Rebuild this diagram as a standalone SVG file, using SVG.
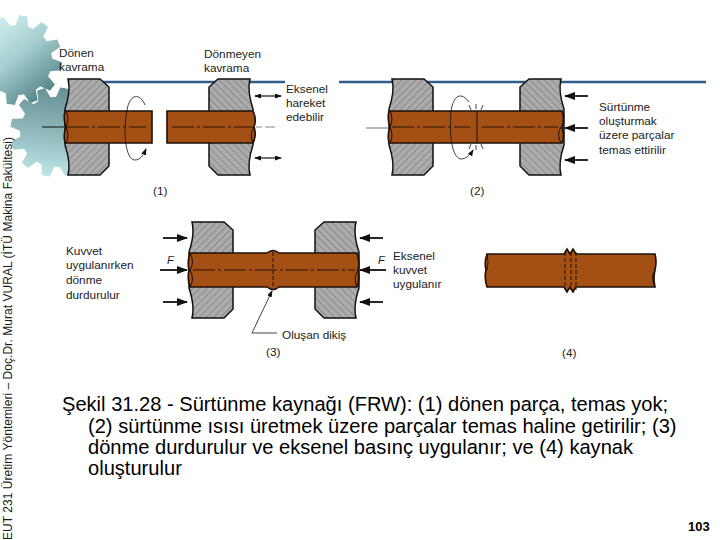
<svg xmlns="http://www.w3.org/2000/svg" xmlns:xlink="http://www.w3.org/1999/xlink" width="720" height="540" viewBox="0 0 720 540">
<style>
text{font-family:"Liberation Sans",Arial,sans-serif;fill:#1a1a1a}
.l{font-size:11.8px;fill:#222}
.c{font-size:20.1px;fill:#000}
.grip{fill:url(#hatch);stroke:#111;stroke-width:1.5}
.bar{fill:#a44f14;stroke:#1c1008;stroke-width:1.6}
.in{fill:none;stroke:#1c1008;stroke-width:1}
.cl{fill:none;stroke:#2a1408;stroke-width:1;stroke-dasharray:22 3 3 3}
.a{fill:none;stroke:#111;stroke-width:1.8}
.ah{marker-end:url(#big)}
.as{marker-end:url(#small);marker-start:url(#smallr);stroke-width:1.2}
.t{fill:none;stroke:#111;stroke-width:.8}
</style>
<defs>
<pattern id="hatch" patternUnits="userSpaceOnUse" width="5" height="5" patternTransform="rotate(-45)">
<rect width="5" height="5" fill="#acacac"/><line x1="0" y1="2.5" x2="5" y2="2.5" stroke="#7a7a7a" stroke-width=".7"/>
</pattern>
<marker id="big" markerWidth="11" markerHeight="9" refX="10" refY="4" orient="auto" markerUnits="userSpaceOnUse"><path d="M0 0L11 4L0 8Z" fill="#111"/></marker>
<marker id="small" markerWidth="7" markerHeight="6" refX="6" refY="2.5" orient="auto" markerUnits="userSpaceOnUse"><path d="M0 0L7 2.5L0 5Z" fill="#111"/></marker>
<marker id="smallr" markerWidth="7" markerHeight="6" refX="1" refY="2.5" orient="auto" markerUnits="userSpaceOnUse"><path d="M7 0L0 2.5L7 5Z" fill="#111"/></marker>
<polygon id="tooth" points="-6.5,-34 -4,-45 4,-45 6.5,-34"/>
<clipPath id="gearShape">
<circle r="35"/>
<use xlink:href="#tooth"/><use xlink:href="#tooth" transform="rotate(30)"/><use xlink:href="#tooth" transform="rotate(60)"/><use xlink:href="#tooth" transform="rotate(90)"/><use xlink:href="#tooth" transform="rotate(120)"/><use xlink:href="#tooth" transform="rotate(150)"/><use xlink:href="#tooth" transform="rotate(180)"/><use xlink:href="#tooth" transform="rotate(210)"/><use xlink:href="#tooth" transform="rotate(240)"/><use xlink:href="#tooth" transform="rotate(270)"/><use xlink:href="#tooth" transform="rotate(300)"/><use xlink:href="#tooth" transform="rotate(330)"/>
</clipPath>
<linearGradient id="g1" x1="0.15" y1="0.2" x2="0.85" y2="0.85"><stop offset="0" stop-color="#d2f0f0"/><stop offset=".45" stop-color="#a5cfd0"/><stop offset="1" stop-color="#4f7f84"/></linearGradient>
<linearGradient id="g2" x1="0.5" y1="0" x2="0.6" y2="1"><stop offset="0" stop-color="#5f8c90"/><stop offset=".5" stop-color="#8fb8bb"/><stop offset="1" stop-color="#c2ecec"/></linearGradient>
<clipPath id="gearArea"><rect x="0" y="0" width="68" height="190"/></clipPath>
<path id="gl" d="M0 0H32L41 8V87L32 96H0Q3 84 -3 66V30Q3 12 0 0Z"/>
</defs>
<rect width="720" height="540" fill="#fff"/>
<g id="gears" clip-path="url(#gearArea)">
<g transform="translate(17 60) rotate(8)"><rect x="-50" y="-50" width="100" height="100" fill="url(#g1)" clip-path="url(#gearShape)"/></g>
<g transform="translate(55 132) rotate(12)"><rect x="-50" y="-50" width="100" height="100" fill="url(#g2)" clip-path="url(#gearShape)"/></g>
</g>
<g id="topline" fill="none" stroke="#2f5d88" stroke-width="2.5"><path d="M103 82H285M339 82H706"/></g>
<g id="panel1">
<use xlink:href="#gl" class="grip" x="68" y="79"/>
<use xlink:href="#gl" class="grip" transform="translate(250 79) scale(-1 1)"/>
<path class="bar" d="M65 111H152V143H65Q63 135 66 127Q63 119 65 111Z"/>
<path class="bar" d="M167 111H253Q257 119 254 127Q257 135 253 143H167Z"/>
<path class="in" d="M66 111Q70 119 66 127Q70 135 66 143M254 127Q249 135 253 143"/>
</g>
<g id="panel2">
<use xlink:href="#gl" class="grip" x="392" y="79"/>
<use xlink:href="#gl" class="grip" transform="translate(561 79) scale(-1 1)"/>
<path class="bar" d="M389 111H562Q565 119 562 127Q565 135 562 143H389Q387 135 390 127Q387 119 389 111Z"/>
<path class="in" d="M390 111Q394 119 390 127Q394 135 390 143M561 127Q556 135 561 143"/>
<path d="M477 111V143" class="in"/>
</g>
<g id="panel3">
<use xlink:href="#gl" class="grip" x="192" y="222"/>
<use xlink:href="#gl" class="grip" transform="translate(356 222) scale(-1 1)"/>
<path class="bar" d="M190 253H267Q273 248 279 253H357Q360 262 358 270Q360 279 357 287H279Q273 292 267 287H190Q187 279 189 270Q187 262 190 253Z"/>
<path class="in" d="M190 253Q195 262 190 270Q195 279 190 287M358 270Q353 279 357 287"/>
<path class="in" stroke-dasharray="4 2" d="M273 252V288"/>
</g>
<g id="panel4">
<path class="bar" d="M487 254H564L567 249L570 254L573 249L576 254H655Q657 262 655 270Q653 278 655 287H576L573 292L570 287L567 292L564 287H487Q484 278 486 270Q484 262 487 254Z"/>
<path class="in" d="M487 254Q489 262 487 270M655 270Q650 278 655 287"/>
<path class="in" stroke-dasharray="4 2" d="M565 252V290M571 252V290M576 252V290"/>
</g>
<g id="connectors">
<path class="a" style="stroke-width:1" d="M42 127H64"/>
<path class="cl" d="M67 127H146"/>
<path class="cl" d="M172 127H253"/>
<path fill="none" stroke="#888" stroke-width="1.2" stroke-dasharray="6 3 10" d="M256 127H277"/>
<path class="t" marker-end="url(#small)" d="M145 105C140 93 130 93 127 110C123 130 125 160 135 160C140 160 143 156 146 149"/>
<path class="a as" d="M255 96H281"/>
<path class="a as" d="M255 158H281"/>
<path fill="none" stroke="#888" stroke-width="1.2" d="M366 128H388"/>
<path class="cl" d="M392 127H470M482 127H558"/>
<path class="t" d="M469 102C462 92 453 94 451 112C449 135 452 158 461 159C466 159 470 155 473 150" marker-end="url(#small)"/>
<path class="t" d="M476 109L476 104M471 110L469 105M481 110L483 105M476 145L476 150M471 144L469 149M481 144L483 149"/>
<path class="a ah" d="M588 96H565"/>
<path class="a ah" d="M588 128H565"/>
<path class="a ah" d="M588 160H565"/>
<path class="a ah" d="M163 238H187"/>
<path class="a ah" d="M160 270H187"/>
<path class="a ah" d="M163 302H187"/>
<path class="a ah" d="M383 238H360"/>
<path class="a ah" d="M386 270H360"/>
<path class="a ah" d="M383 302H360"/>
<path fill="none" stroke="#2a1408" stroke-width="1" stroke-dasharray="22 3 3 3" d="M193 270H355"/>
<path class="t" marker-end="url(#small)" d="M277 333H252L272 291"/>
</g>
<g id="labels">
<text class="l" x="59" y="57">Dönen</text><text class="l" x="59" y="71">kavrama</text>
<text class="l" x="204" y="58">Dönmeyen</text><text class="l" x="204" y="72">kavrama</text>
<text class="l" x="286" y="93">Eksenel</text><text class="l" x="286" y="107">hareket</text><text class="l" x="286" y="121">edebilir</text>
<text class="l" x="599" y="111">Sürtünme</text><text class="l" x="599" y="125">oluşturmak</text><text class="l" x="599" y="139">üzere parçalar</text><text class="l" x="599" y="154">temas ettirilir</text>
<text class="l" x="66" y="255">Kuvvet</text><text class="l" x="66" y="269">uygulanırken</text><text class="l" x="66" y="284">dönme</text><text class="l" x="66" y="299">durdurulur</text>
<text class="l" x="393" y="260">Eksenel</text><text class="l" x="393" y="274">kuvvet</text><text class="l" x="393" y="288">uygulanır</text>
<text class="l" x="282" y="339">Oluşan dikiş</text>
<text class="l" x="153" y="195">(1)</text><text class="l" x="470" y="195">(2)</text><text class="l" x="266" y="356">(3)</text><text class="l" x="562" y="357">(4)</text>
<text x="167" y="264" font-size="11" font-style="italic">F</text><text x="378" y="264" font-size="11" font-style="italic">F</text>
</g>
<g id="caption">
<text class="c" x="62" y="411">Şekil 31.28 - Sürtünme kaynağı (FRW): (1) dönen parça, temas yok;</text>
<text class="c" x="88" y="433">(2) sürtünme ısısı üretmek üzere parçalar temas haline getirilir; (3)</text>
<text class="c" x="88" y="454">dönme durdurulur ve eksenel basınç uygulanır; ve (4) kaynak</text>
<text class="c" x="88" y="475">oluşturulur</text>
</g>
<text x="688" y="531" font-size="13" font-weight="bold" style="fill:#000">103</text>
<text transform="translate(12 540) rotate(-90)" font-size="12" textLength="403" lengthAdjust="spacing">EUT 231 Üretim Yöntemleri – Doç.Dr. Murat VURAL (İTÜ Makina Fakültesi)</text>
</svg>
